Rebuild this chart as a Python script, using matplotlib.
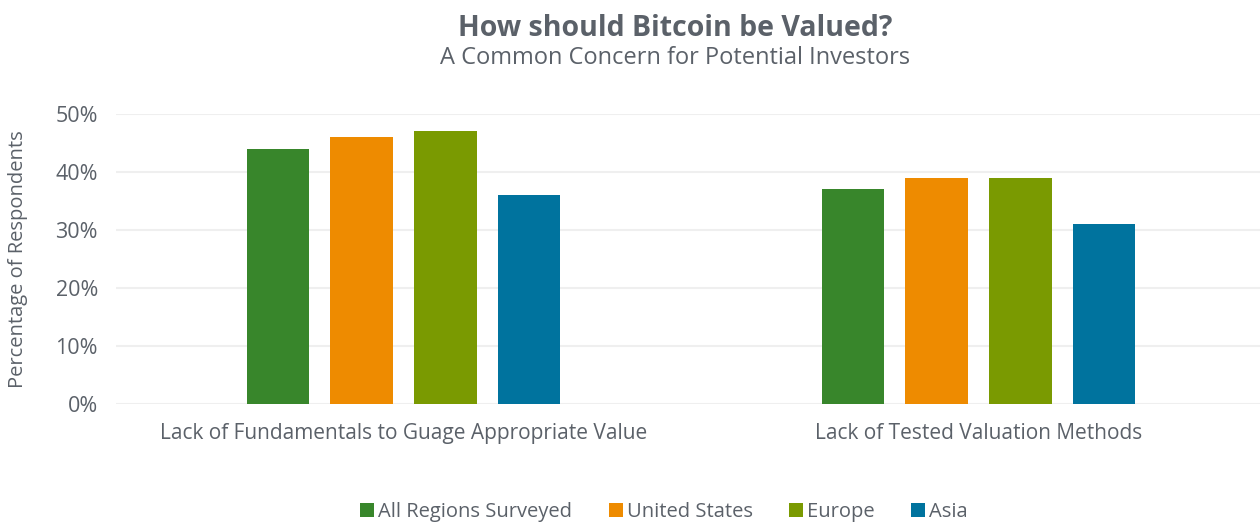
import numpy as np
import matplotlib.pyplot as plt
from matplotlib.ticker import PercentFormatter

# --- data ---
categories = ["Lack of Fundamentals to Guage Appropriate Value",
              "Lack of Tested Valuation Methods"]
series_names = ["All Regions Surveyed", "United States", "Europe", "Asia"]
all_regions = [44, 37]
united_states = [46, 39]
europe = [47, 39]
asia = [36, 31]
series_values = [all_regions, united_states, europe, asia]
colors = ["#38862B", "#EE8B00", "#7A9A01", "#00739E"]
text_color = "#5B6169"

plt.rcParams['font.family'] = ['Open Sans', 'DejaVu Sans']

fig = plt.figure(figsize=(12.6, 5.23), dpi=100)
ax = fig.add_axes([116 / 1260, 1 - 404 / 523, 1 - 116 / 1260, 290 / 523])

x = np.arange(len(categories))
width = 0.108
step = 0.146
for i, (name, vals) in enumerate(zip(series_names, series_values)):
    ax.bar(x + (i - 1.5) * step, vals, width, color=colors[i], label=name, zorder=3)

ax.set_xlim(-0.5, 1.5 - 6 / 575)
ax.set_ylim(0, 50)
ax.set_yticks(range(0, 51, 10))
ax.yaxis.set_major_formatter(PercentFormatter(decimals=0))
ax.grid(axis='y', color='#EFEFEF', linewidth=1.5, zorder=0)
for s in ax.spines.values():
    s.set_visible(False)
ax.tick_params(length=0, labelsize=15.5, colors=text_color)
ax.tick_params(axis='y', pad=13)
ax.set_xticks(x)
ax.set_xticklabels(categories, fontsize=15)
ax.tick_params(axis='x', pad=14)
ax.set_ylabel("Percentage of Respondents", fontsize=14.5, color=text_color, va='center')
ax.yaxis.set_label_coords(-0.0857, 0.5)

fig.text(0.536, 1 - 28 / 523, "How should Bitcoin be Valued?", ha='center', va='center',
         fontsize=20.5, fontweight='bold', color=text_color)
fig.text(0.536, 1 - 58 / 523, "A Common Concern for Potential Investors", ha='center',
         va='center', fontsize=17, color=text_color)

fig.legend(loc='center', bbox_to_anchor=(0.527, 1 - 512 / 523), ncol=4, frameon=False,
           fontsize=14.5, handlelength=0.7, handleheight=0.7, handletextpad=0.2,
           columnspacing=1.8, labelcolor=text_color)

fig.savefig("out.png", dpi=100)
